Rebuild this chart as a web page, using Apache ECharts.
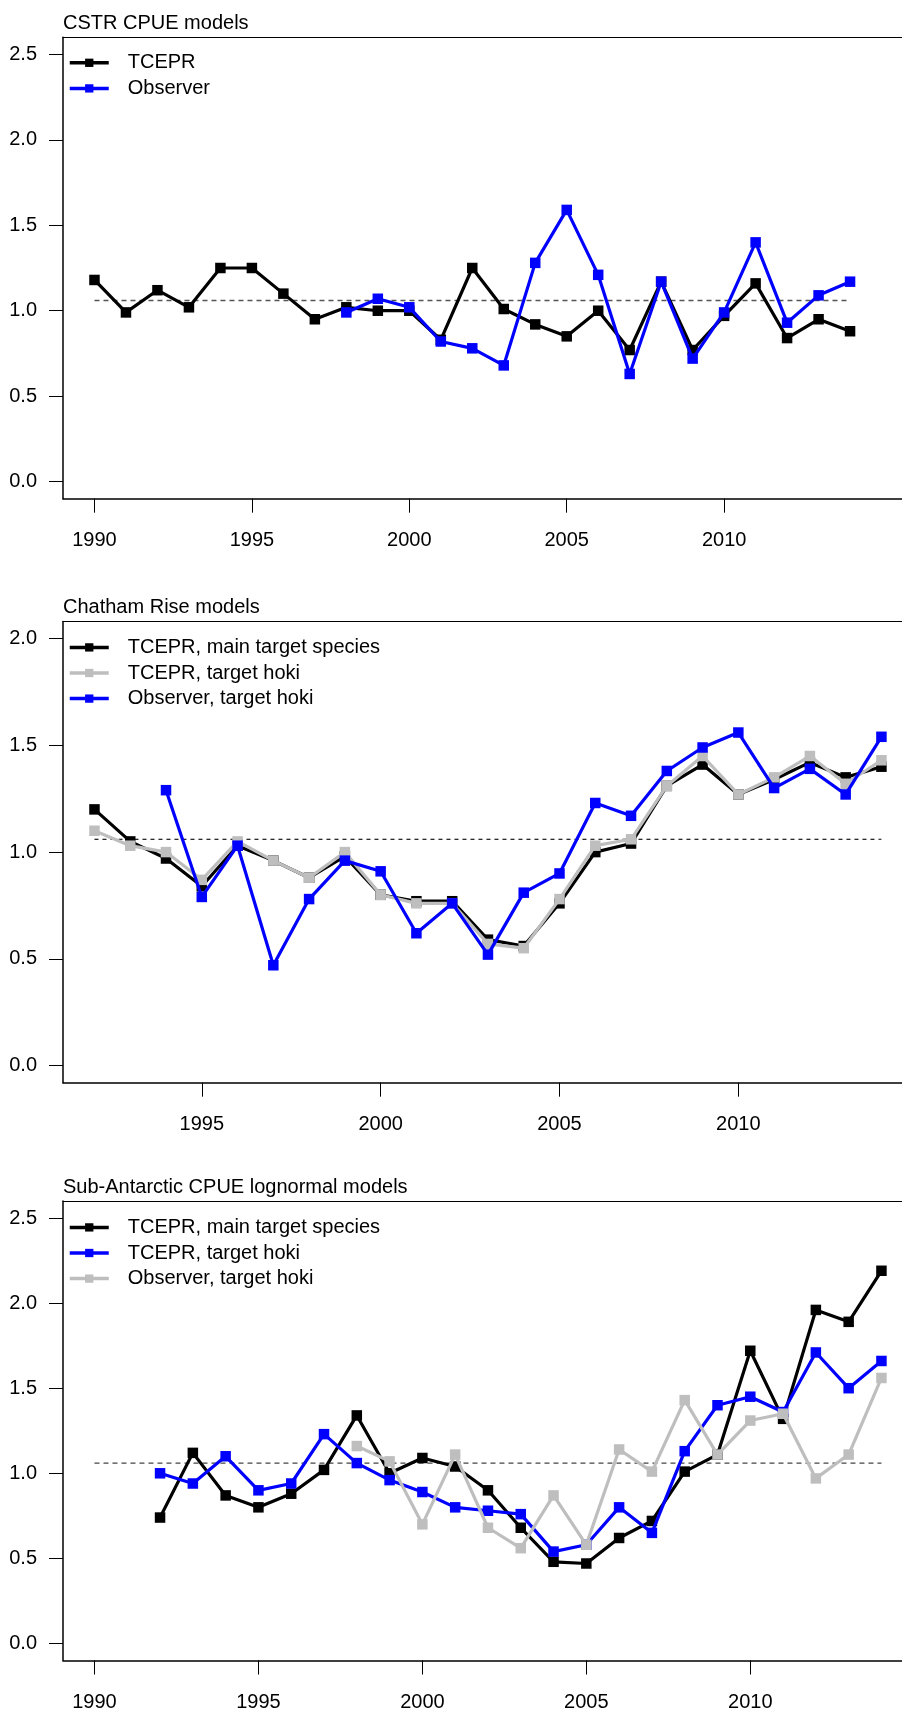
<!DOCTYPE html>
<html>
<head>
<meta charset="utf-8">
<script src="https://cdn.jsdelivr.net/npm/echarts/dist/echarts.min.js"></script>
<style>
  html, body { margin: 0; padding: 0; background: #fff; overflow: hidden; }
  #chart { width: 902px; height: 1712px; }
</style>
</head>
<body>
<div id="chart"></div>
<script>
// ---------------- DATA ----------------
const refLevel = 1.06;

// Panel 1: CSTR CPUE models
const p1Title = 'CSTR CPUE models';
const p1YearsTcepr = [1990,1991,1992,1993,1994,1995,1996,1997,1998,1999,2000,2001,2002,2003,2004,2005,2006,2007,2008,2009,2010,2011,2012,2013,2014];
const p1Tcepr = [1.18,0.99,1.12,1.02,1.25,1.25,1.10,0.95,1.02,1.00,1.00,0.83,1.25,1.01,0.92,0.85,1.00,0.77,1.17,0.77,0.97,1.16,0.84,0.95,0.88];
const p1YearsObs = [1998,1999,2000,2001,2002,2003,2004,2005,2006,2007,2008,2009,2010,2011,2012,2013,2014];
const p1Obs = [0.99,1.07,1.02,0.82,0.78,0.68,1.28,1.59,1.21,0.63,1.17,0.72,0.99,1.40,0.93,1.09,1.17];
const p1Names = ['TCEPR', 'Observer'];
const p1RefYears = [1990, 2014];
const p1XTicks = [1990, 1995, 2000, 2005, 2010];
const p1YTicks = [0, 0.5, 1.0, 1.5, 2.0, 2.5];

// Panel 2: Chatham Rise models
const p2Title = 'Chatham Rise models';
const p2Years = [1992,1993,1994,1995,1996,1997,1998,1999,2000,2001,2002,2003,2004,2005,2006,2007,2008,2009,2010,2011,2012,2013,2014];
const p2Main = [1.20,1.05,0.97,0.84,1.03,0.96,0.88,0.98,0.80,0.77,0.77,0.59,0.56,0.76,1.00,1.04,1.31,1.41,1.27,1.34,1.42,1.35,1.40];
const p2Hoki = [1.10,1.03,1.00,0.87,1.05,0.96,0.88,1.00,0.80,0.76,0.76,0.57,0.55,0.78,1.03,1.06,1.31,1.45,1.27,1.35,1.45,1.32,1.43];
const p2YearsObs = [1994,1995,1996,1997,1998,1999,2000,2001,2002,2003,2004,2005,2006,2007,2008,2009,2010,2011,2012,2013,2014];
const p2Obs = [1.29,0.79,1.03,0.47,0.78,0.96,0.91,0.62,0.76,0.52,0.81,0.90,1.23,1.17,1.38,1.49,1.56,1.30,1.39,1.27,1.54];
const p2Names = ['TCEPR, main target species', 'TCEPR, target hoki', 'Observer, target hoki'];
const p2RefYears = [1992, 2014];
const p2XTicks = [1995, 2000, 2005, 2010];
const p2YTicks = [0, 0.5, 1.0, 1.5, 2.0];

// Panel 3: Sub-Antarctic CPUE lognormal models
const p3Title = 'Sub-Antarctic CPUE lognormal models';
const p3Years = [1992,1993,1994,1995,1996,1997,1998,1999,2000,2001,2002,2003,2004,2005,2006,2007,2008,2009,2010,2011,2012,2013,2014];
const p3Main = [0.74,1.12,0.87,0.80,0.88,1.02,1.34,1.00,1.09,1.04,0.90,0.68,0.48,0.47,0.62,0.72,1.01,1.11,1.72,1.32,1.96,1.89,2.19];
const p3Hoki = [1.00,0.94,1.10,0.90,0.94,1.23,1.06,0.96,0.89,0.80,0.78,0.76,0.54,0.58,0.80,0.65,1.13,1.40,1.45,1.36,1.71,1.50,1.66];
const p3YearsObs = [1998,1999,2000,2001,2002,2003,2004,2005,2006,2007,2008,2009,2010,2011,2012,2013,2014];
const p3Obs = [1.16,1.07,0.70,1.11,0.68,0.56,0.87,0.58,1.14,1.01,1.43,1.11,1.31,1.35,0.97,1.11,1.56];
const p3Names = ['TCEPR, main target species', 'TCEPR, target hoki', 'Observer, target hoki'];
const p3RefYears = [1990, 2014];
const p3XTicks = [1990, 1995, 2000, 2005, 2010];
const p3YTicks = [0, 0.5, 1.0, 1.5, 2.0, 2.5];

// ---------------- STYLE / LAYOUT ----------------
const FONT = '"Liberation Sans", Arial, Helvetica, sans-serif';
const FS = 20;
const BLACK = '#000000', BLUE = '#0000ff', GRAY = '#bebebe';

function pairs(xs, ys) { return xs.map((x, i) => [x, ys[i]]); }

const panels = [
  { title: p1Title, top: 37.3, height: 461.4, xMin: 1989, xMax: 2015.65, yMin: -0.1, yMax: 2.6,
    xTicks: p1XTicks, yTicks: p1YTicks, ref: p1RefYears, refColor: '#555', refWidth: 1.6, refDash: [5, 4],
    legendTop: 52.8,
    series: [
      { name: p1Names[0], data: pairs(p1YearsTcepr, p1Tcepr), color: BLACK },
      { name: p1Names[1], data: pairs(p1YearsObs, p1Obs), color: BLUE }
    ],
    legendOrder: [0, 1]
  },
  { title: p2Title, top: 621.5, height: 461.2, xMin: 1991.12, xMax: 2014.575, yMin: -0.08, yMax: 2.08,
    xTicks: p2XTicks, yTicks: p2YTicks, ref: p2RefYears, refColor: '#000', refWidth: 1.1, refDash: [4, 4],
    legendTop: 637.4,
    series: [
      { name: p2Names[0], data: pairs(p2Years, p2Main), color: BLACK },
      { name: p2Names[1], data: pairs(p2Years, p2Hoki), color: GRAY },
      { name: p2Names[2], data: pairs(p2YearsObs, p2Obs), color: BLUE }
    ],
    legendOrder: [0, 1, 2]
  },
  { title: p3Title, top: 1201, height: 461.4, xMin: 1989.04, xMax: 2014.627, yMin: -0.1, yMax: 2.6,
    xTicks: p3XTicks, yTicks: p3YTicks, ref: p3RefYears, refColor: '#444', refWidth: 1.4, refDash: [5, 4],
    legendTop: 1217.4,
    series: [
      { name: p3Names[0], data: pairs(p3Years, p3Main), color: BLACK },
      { name: p3Names[1], data: pairs(p3Years, p3Hoki), color: BLUE },
      { name: p3Names[2], data: pairs(p3YearsObs, p3Obs), color: GRAY }
    ],
    legendOrder: [0, 1, 2]
  }
];

const option = {
  animation: false,
  backgroundColor: '#ffffff',
  textStyle: { fontFamily: FONT },
  title: [], legend: [], grid: [], xAxis: [], yAxis: [], series: []
};

panels.forEach((p, i) => {
  option.grid.push({
    left: 63, right: 0, top: p.top, height: p.height, show: false
  });
  option.title.push({
    text: p.title, left: 63, top: p.top - 23.8, padding: 0,
    textStyle: { fontSize: FS, fontWeight: 'normal', color: '#000', fontFamily: FONT }
  });
  // bottom axis (data axis)
  option.xAxis.push({
    type: 'value', gridIndex: i, min: p.xMin, max: p.xMax, position: 'bottom',
    axisLine: { show: true, onZero: false, lineStyle: { color: '#000', width: 1.5 } },
    axisTick: { show: true, length: 14, customValues: p.xTicks, lineStyle: { color: '#000', width: 1 } },
    axisLabel: { customValues: p.xTicks, margin: 31.5, fontSize: FS, color: '#000', fontFamily: FONT,
                 formatter: v => String(v) },
    splitLine: { show: false }
  });
  // top border line
  option.xAxis.push({
    type: 'value', gridIndex: i, min: p.xMin, max: p.xMax, position: 'top',
    axisLine: { show: true, onZero: false, lineStyle: { color: '#000', width: 1.2 } },
    axisTick: { show: false }, axisLabel: { show: false }, splitLine: { show: false }
  });
  option.yAxis.push({
    type: 'value', gridIndex: i, min: p.yMin, max: p.yMax,
    axisLine: { show: true, onZero: false, lineStyle: { color: '#000', width: 1.5 } },
    axisTick: { show: true, length: 14, customValues: p.yTicks, lineStyle: { color: '#000', width: 1 } },
    axisLabel: { customValues: p.yTicks, margin: 26, fontSize: FS, color: '#000', fontFamily: FONT,
                 formatter: v => Number(v).toFixed(1) },
    splitLine: { show: false }
  });
  // reference dashed line
  option.series.push({
    type: 'line', name: 'ref#' + i, xAxisIndex: 2 * i, yAxisIndex: i, silent: true,
    data: [[p.ref[0], refLevel], [p.ref[1], refLevel]],
    symbol: 'none', z: 1,
    lineStyle: { color: p.refColor, width: p.refWidth, type: p.refDash }
  });
  p.series.forEach((s, k) => {
    option.series.push({
      type: 'line', name: s.name + '#' + i, xAxisIndex: 2 * i, yAxisIndex: i,
      data: s.data, symbol: 'rect', symbolSize: 10.5, showSymbol: true,
      color: s.color, z: 2 + k,
      lineStyle: { color: s.color, width: 3.2 },
      itemStyle: { color: s.color },
      emphasis: { disabled: true }
    });
  });
  const legendNames = p.legendOrder.map(k => p.series[k].name + '#' + i);
  option.legend.push({
    orient: 'vertical', left: 68, top: p.legendTop, padding: 0,
    itemWidth: 39, itemHeight: 10.4, itemGap: 5.6, selectedMode: false,
    data: legendNames,
    formatter: n => n.split('#')[0],
    lineStyle: { width: 3.5 },
    textStyle: { fontSize: FS, color: '#000', fontFamily: FONT, padding: [0, 0, 0, 14] }
  });
});

const chart = echarts.init(document.getElementById('chart'), null, { renderer: 'canvas' });
chart.setOption(option);
</script>
</body>
</html>
